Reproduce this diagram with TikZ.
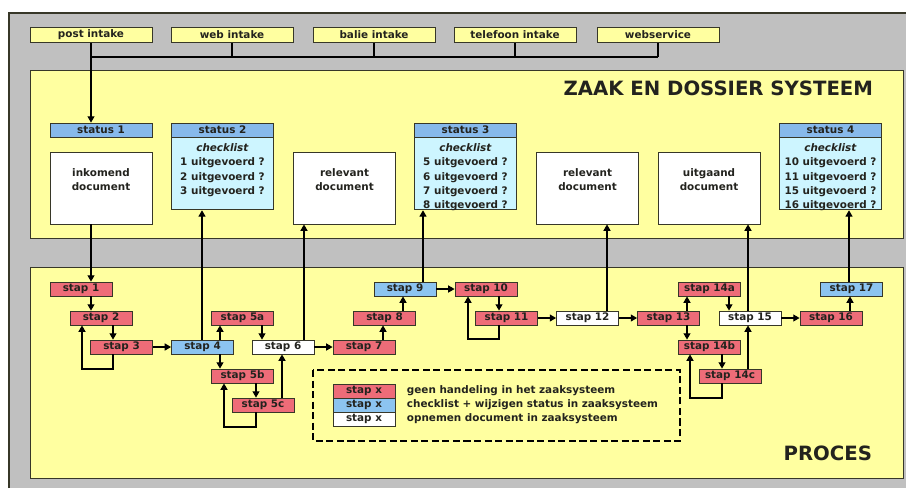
\documentclass[tikz,border=0pt]{standalone}
\usepackage{fontspec}
\setmainfont{DejaVu Sans}
\usetikzlibrary{arrows.meta,positioning}

\definecolor{zgray}{RGB}{192,192,192}
\definecolor{zyellow}{RGB}{255,255,160}
\definecolor{zline}{RGB}{55,55,40}
\definecolor{ztext}{RGB}{35,35,30}
\definecolor{zred}{RGB}{238,108,120}
\definecolor{zblue}{RGB}{140,196,240}
\definecolor{zhead}{RGB}{135,185,235}
\definecolor{zbody}{RGB}{205,245,255}

\begin{document}
\begin{tikzpicture}[x=0.025cm, y=-0.025cm,
    font=\bfseries\fontsize{7.4}{10}\selectfont, text=ztext,
    box/.style={draw=zline, line width=0.6pt, inner sep=0pt, minimum height=0.35cm},
    intake/.style={box, fill=zyellow, minimum width=3.05cm, minimum height=0.375cm},
    stapred/.style={box, fill=zred, minimum width=1.55cm},
    stapblue/.style={box, fill=zblue, minimum width=1.55cm},
    stapwhite/.style={box, fill=white, minimum width=1.55cm},
    statushead/.style={box, fill=zhead, minimum width=2.55cm},
    statusbody/.style={box, fill=zbody, minimum width=2.55cm, minimum height=1.8cm, anchor=north},
    docbox/.style={box, fill=white, minimum width=2.55cm, minimum height=1.8cm},
    panel/.style={draw=zline, fill=zyellow, line width=0.7pt},
    bigtitle/.style={anchor=east, font=\bfseries\fontsize{14}{16}\selectfont},
    arr/.style={-{Triangle[length=4.5pt,width=5pt]}, line width=0.8pt},
    conn/.style={line width=0.8pt}]

    \useasboundingbox (0,0) rectangle (906,488);

    % Background
    \fill[white] (0,0) rectangle (906,488);
    \fill[zgray] (9,13) rectangle (906,488);
    \draw[zline, line width=1pt] (9,488) -- (9,13) -- (906,13);

    % Panels
    \draw[panel] (30,70) rectangle (903,238);
    \node[bigtitle] at (878,88) {ZAAK EN DOSSIER SYSTEEM};
    \draw[panel] (30,267) rectangle (903,478);
    \node[bigtitle] at (877,453) {PROCES};

    % Intake channels
    \foreach \n/\x/\t in {post/91/post intake, web/232/web intake, balie/374/balie intake,
                          tel/515/telefoon intake, ws/658/webservice}
        \node[intake] (\n) at (\x,35) {\t};
    \coordinate (bus) at (0,57);
    \foreach \n in {web, balie, tel, ws}
        \draw[conn] (\n.south) -- (\n.south |- bus);
    \draw[conn] (post.south |- bus) -- (ws.south |- bus);

    % Status boxes
    \node[statushead] (st1) at (101,130) {status 1};
    \node[statushead] (st2) at (222.5,130) {status 2};
    \node[statushead] (st3) at (465.5,130) {status 3};
    \node[statushead] (st4) at (830.5,130) {status 4};
    \node[statusbody] (b2) at (st2.south) {};
    \node[statusbody] (b3) at (st3.south) {};
    \node[statusbody] (b4) at (st4.south) {};
    \node[anchor=north, align=center] at (222.5,139)
        {\textit{checklist}\\1 uitgevoerd ?\\2 uitgevoerd ?\\3 uitgevoerd ?};
    \node[anchor=north, align=center] at (465.5,139)
        {\textit{checklist}\\5 uitgevoerd ?\\6 uitgevoerd ?\\7 uitgevoerd ?\\8 uitgevoerd ?};
    \node[anchor=north, align=center] at (830.5,139)
        {\textit{checklist}\\10 uitgevoerd ?\\11 uitgevoerd ?\\15 uitgevoerd ?\\16 uitgevoerd ?};

    % Documents
    \foreach \n/\x/\t in {d1/101/inkomend, d2/344.5/relevant, d3/587.5/relevant, d4/709/uitgaand} {
        \node[docbox] (\n) at (\x,188) {};
        \node[align=center] at (\x,180) {\t\\document};
    }

    % Process steps
    \foreach \n/\x/\y/\s/\t in {s1/81/289/stapred/stap 1, s2/101/318/stapred/stap 2,
            s3/121.5/347/stapred/stap 3, s4/202.5/347/stapblue/stap 4,
            s5a/242.5/318/stapred/stap 5a, s5b/242.5/376/stapred/stap 5b,
            s5c/263/405/stapred/stap 5c, s6/283/347/stapwhite/stap 6,
            s7/364/347/stapred/stap 7, s8/384.5/318/stapred/stap 8,
            s9/405/289/stapblue/stap 9, s10/486/289/stapred/stap 10,
            s11/506.5/318/stapred/stap 11, s12/587.5/318/stapwhite/stap 12,
            s13/668.5/318/stapred/stap 13, s14a/709.5/289/stapred/stap 14a,
            s14b/709.5/347/stapred/stap 14b, s14c/730/376/stapred/stap 14c,
            s15/750/318/stapwhite/stap 15, s16/831/318/stapred/stap 16,
            s17/851.5/289/stapblue/stap 17}
        \node[\s] (\n) at (\x,\y) {\t};

    % Intake and document arrows
    \draw[arr] (post.south) -- (post.south |- st1.north);
    \draw[arr] (d1.south -| post.south) -- (post.south |- s1.north);
    \draw[arr] (s4.north -| 202,0) -- (b2.south -| 202,0);
    \draw[arr] (s6.north -| 304,0) -- (d2.south -| 304,0);
    \draw[arr] (s9.north -| 423,0) -- (b3.south -| 423,0);
    \draw[arr] (s12.north -| 607,0) -- (d3.south -| 607,0);
    \draw[arr] (s15.north -| 748,0) -- (d4.south -| 748,0);
    \draw[arr] (s17.north -| 849,0) -- (b4.south -| 849,0);

    % Step flow
    \draw[arr] (s1.south -| 91,0) -- (s2.north -| 91,0);
    \draw[arr] (s2.south -| 113,0) -- (s3.north -| 113,0);
    \draw[arr] (s3.south -| 113,0) |- (82,369) -- (s2.south -| 82,0);
    \draw[arr] (s3) -- (s4);
    \draw[arr] (s4.north -| 220,0) -- (s5a.south -| 220,0);
    \draw[arr] (s4.south -| 220,0) -- (s5b.north -| 220,0);
    \draw[arr] (s5a.south -| 262,0) -- (s6.north -| 262,0);
    \draw[arr] (s5b.south -| 256,0) -- (s5c.north -| 256,0);
    \draw[arr] (s5c.south -| 256,0) |- (224,427) -- (s5b.south -| 224,0);
    \draw[arr] (s5c.north -| 282,0) -- (s6.south -| 282,0);
    \draw[arr] (s6) -- (s7);
    \draw[arr] (s7.north -| 383,0) -- (s8.south -| 383,0);
    \draw[arr] (s8.north -| 403,0) -- (s9.south -| 403,0);
    \draw[arr] (s9) -- (s10);
    \draw[arr] (s10.south -| 499,0) -- (s11.north -| 499,0);
    \draw[arr] (s11.south -| 499,0) |- (468,339) -- (s10.south -| 468,0);
    \draw[arr] (s11) -- (s12);
    \draw[arr] (s12) -- (s13);
    \draw[arr] (s13.north -| 687,0) -- (s14a.south -| 687,0);
    \draw[arr] (s13.south -| 687,0) -- (s14b.north -| 687,0);
    \draw[arr] (s14a.south -| 729,0) -- (s15.north -| 729,0);
    \draw[arr] (s14b.south -| 722,0) -- (s14c.north -| 722,0);
    \draw[arr] (s14c.south -| 722,0) |- (690,398) -- (s14b.south -| 690,0);
    \draw[arr] (s14c.north -| 748,0) -- (s15.south -| 748,0);
    \draw[arr] (s15) -- (s16);
    \draw[arr] (s16.north -| 850,0) -- (s17.south -| 850,0);

    % Legend
    \draw[line width=1pt, dash pattern=on 5pt off 2.5pt] (313,370) rectangle (680,441);
    \node[stapred] (lr) at (364,391) {stap x};
    \node[stapblue] (lb) at (364,405) {stap x};
    \node[stapwhite] (lw) at (364,419) {stap x};
    \node[anchor=west] at (402,391) {geen handeling in het zaaksysteem};
    \node[anchor=west] at (402,405) {checklist + wijzigen status in zaaksysteem};
    \node[anchor=west] at (402,419) {opnemen document in zaaksysteem};

\end{tikzpicture}
\end{document}
